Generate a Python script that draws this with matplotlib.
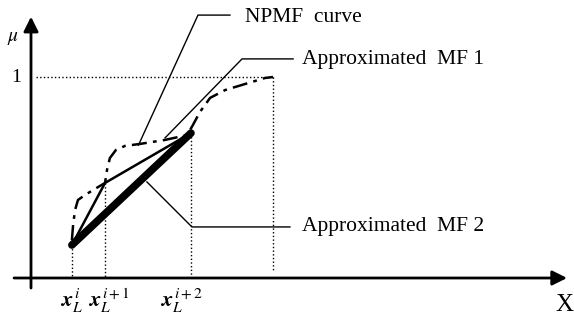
import matplotlib
matplotlib.use("Agg")
import matplotlib.pyplot as plt

plt.rcParams['font.family'] = ['Liberation Serif', 'DejaVu Serif']
plt.rcParams['mathtext.fontset'] = 'stix'

# knots of the approximation
knot_x = [0.169, 0.306, 0.661]
knot_labels = [r'$\mathbfit{x}_L^{\,i}$', r'$\mathbfit{x}_L^{\,i+1}$', r'$\mathbfit{x}_L^{\,i+2}$']
label_x = [0.120, 0.236, 0.533]
x_end = 1.0

# approximated MF 1 (through all knots) and MF 2 (first to last knot)
mf1_x = [0.169, 0.306, 0.661]
mf1_y = [0.164, 0.473, 0.721]
mf2_x = [0.169, 0.661]
mf2_y = [0.164, 0.721]

# NPMF curve
npmf_x = [0.169, 0.174, 0.182, 0.194, 0.223, 0.264, 0.306, 0.314, 0.326, 0.351,
          0.388, 0.450, 0.554, 0.645, 0.669, 0.698, 0.740, 0.802, 0.884, 0.967, 1.0]
npmf_y = [0.189, 0.264, 0.338, 0.388, 0.413, 0.443, 0.473, 0.537, 0.597, 0.637,
          0.657, 0.667, 0.687, 0.711, 0.761, 0.826, 0.896, 0.935, 0.965, 0.995, 1.0]

fig = plt.figure(figsize=(5.74, 3.19), dpi=100)
ax = fig.add_axes([0, 0, 1, 1])
ax.set_xlim(-31 / 242, 543 / 242)
ax.set_ylim(-41 / 201, 278 / 201)
ax.axis('off')

# axes with arrows
ax.annotate('', xy=(0, 1.30), xytext=(0, -0.05),
            arrowprops=dict(arrowstyle='-|>', lw=2, color='k', mutation_scale=22, shrinkA=0, shrinkB=0))
ax.annotate('', xy=(2.215, 0), xytext=(-0.07, 0),
            arrowprops=dict(arrowstyle='-|>', lw=2, color='k', mutation_scale=22, shrinkA=0, shrinkB=0))

# dotted guides
ax.plot([0.02, x_end], [1, 1], color='k', ls=':', lw=1)
ax.plot([x_end, x_end], [1, 0.03], color='k', ls=':', lw=1)
for kx, ky in zip(mf1_x, mf1_y):
    ax.plot([kx, kx], [ky, 0.0], color='k', ls=':', lw=1)

# curves
ax.plot(npmf_x, npmf_y, color='k', lw=1.8, ls=(0, (6, 2.5, 1.5, 2.5)))
ax.plot(mf1_x, mf1_y, color='k', lw=1.8, solid_capstyle='round')
ax.plot(mf2_x, mf2_y, color='k', lw=5.5, solid_capstyle='round')

# leader lines
ax.plot([0.444, 0.690, 0.822], [0.661, 1.308, 1.308], color='k', lw=1)
ax.plot([0.554, 0.872, 1.083], [0.697, 1.090, 1.090], color='k', lw=1)
ax.plot([0.479, 0.665, 1.07], [0.478, 0.254, 0.254], color='k', lw=1)

ax.text(0.884, 1.298, 'NPMF  curve', fontsize=15.5, va='center', ha='left')
ax.text(1.12, 1.085, 'Approximated  MF 1', fontsize=15.5, va='center', ha='left')
ax.text(1.12, 0.254, 'Approximated  MF 2', fontsize=15.5, va='center', ha='left')

# tick labels
for lx, lab in zip(label_x, knot_labels):
    ax.text(lx, -0.115, lab, fontsize=16, ha='left', va='center')
ax.text(2.206, -0.134, 'X', fontsize=18, ha='center', va='center')
ax.text(-0.074, 1.19, r'$\mu$', fontsize=14, ha='center', va='center')
ax.text(-0.06, 1.0, '1', fontsize=14, ha='center', va='center')

fig.savefig('out.png', dpi=100)
